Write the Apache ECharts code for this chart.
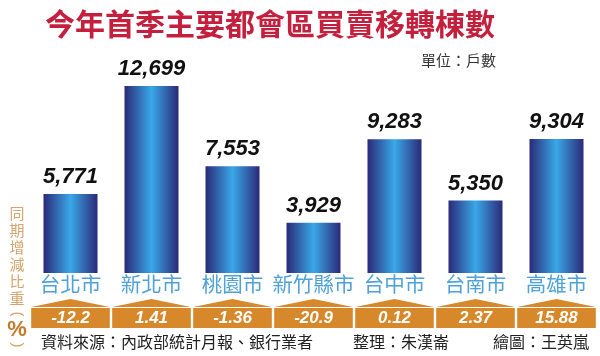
<!DOCTYPE html>
<html>
<head>
<meta charset="utf-8">
<script src="https://cdn.jsdelivr.net/npm/echarts@6/dist/echarts.min.js"></script>
<style>
html,body{margin:0;padding:0;background:#fff;}
#c{width:600px;height:356px;}
</style>
</head>
<body>
<div id="c"></div>
<script>
const cities = ['台北市', '新北市', '桃園市', '新竹縣市', '台中市', '台南市', '高雄市'];
const transfers = [5771, 12699, 7553, 3929, 9283, 5350, 9304];
const yoyPct = [-12.2, 1.41, -1.36, -20.9, 0.12, 2.37, 15.88];
const titleText = '今年首季主要都會區買賣移轉棟數';
const unitText = '單位：戶數';
const sourceText = '資料來源：內政部統計月報、銀行業者';
const editorText = '整理：朱漢崙';
const drawText = '繪圖：王英嵐';
const sideText = ['同', '期', '增', '減', '比', '重'];

const Y_MIN = 705, Y_MAX = 15650;
const CJK = '"Noto Sans CJK TC","Noto Sans CJK SC",sans-serif';
const LAT = '"Liberation Sans",Arial,sans-serif';

const chart = echarts.init(document.getElementById('c'), null, {renderer: 'canvas'});

const sideGraphics = sideText.map((ch, k) => ({
  type: 'text', x: 17, y: 213 + k * 17,
  style: {text: ch, font: '15px ' + CJK, fill: '#d4a56c', align: 'center', verticalAlign: 'middle'}
}));

chart.setOption({
  animation: false,
  grid: {left: 30, right: 3, top: 40, bottom: 83},
  xAxis: {
    type: 'category', data: cities,
    axisLine: {show: false}, axisTick: {show: false},
    axisLabel: {interval: 0, hideOverlap: false, margin: 1, fontSize: 20.5, fontFamily: CJK, color: '#4ea2d6'}
  },
  yAxis: {type: 'value', min: Y_MIN, max: Y_MAX, show: false, splitLine: {show: false}},
  series: [
    {
      type: 'bar', data: transfers, barWidth: 54, clip: true,
      itemStyle: {
        color: new echarts.graphic.LinearGradient(0, 0, 1, 0, [
          {offset: 0, color: '#2a2a78'},
          {offset: 0.5, color: '#3aa8e8'},
          {offset: 1, color: '#2a2a78'}
        ])
      },
      label: {
        show: true, position: 'top', distance: 6,
        formatter: p => p.value.toLocaleString('en-US'),
        fontFamily: LAT, fontSize: 22, fontWeight: 'bold', fontStyle: 'italic', color: '#111'
      }
    },
    {
      type: 'custom', clip: false,
      data: yoyPct.map((v, i) => [i, v]),
      renderItem: (params, api) => {
        const i = api.value(0);
        const base = api.coord([i, Y_MIN]);
        const w = api.size([1, 0])[0];
        const hw = w / 2 - 1.2;
        const x = base[0], y = base[1];
        const col = '#d6882a';
        return {
          type: 'group',
          children: [
            {type: 'polygon', shape: {points: [[x - hw, y + 34], [x, y + 26], [x + hw, y + 34]]}, style: {fill: col}},
            {type: 'rect', shape: {x: x - hw, y: y + 35, width: hw * 2, height: 20}, style: {fill: col}},
            {type: 'text', x: x, y: y + 45.5, style: {
              text: String(api.value(1)), align: 'center', verticalAlign: 'middle',
              font: 'italic bold 17px ' + LAT, fill: '#fff'
            }}
          ]
        };
      }
    }
  ],
  graphic: [
    {type: 'text', left: 45, top: 9, style: {text: titleText, font: 'bold 30px ' + CJK, fill: '#c41f3c'}},
    {type: 'text', right: 104, top: 53, style: {text: unitText, font: '15px ' + CJK, fill: '#333'}},
    ...sideGraphics,
    {type: 'text', x: 17, y: 314, rotation: -Math.PI / 2, style: {text: '(', font: '15px ' + LAT, fill: '#d4a56c', align: 'center', verticalAlign: 'middle'}},
    {type: 'text', x: 17, y: 330, style: {text: '%', font: 'bold 22px ' + LAT, fill: '#c37a2c', align: 'center', verticalAlign: 'middle'}},
    {type: 'text', x: 17, y: 345, rotation: -Math.PI / 2, style: {text: ')', font: '15px ' + LAT, fill: '#d4a56c', align: 'center', verticalAlign: 'middle'}},
    {type: 'text', left: 41, top: 334, style: {text: sourceText, font: '16px ' + CJK, fill: '#222'}},
    {type: 'text', left: 353, top: 334, style: {text: editorText, font: '16px ' + CJK, fill: '#222'}},
    {type: 'text', left: 493, top: 334, style: {text: drawText, font: '16px ' + CJK, fill: '#222'}}
  ]
});
</script>
</body>
</html>
